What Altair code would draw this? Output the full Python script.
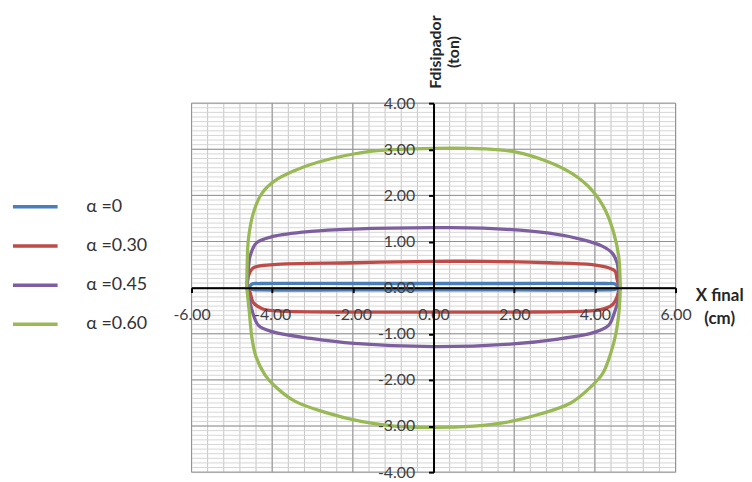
import altair as alt
import numpy as np
import pandas as pd

# ---- data ----
series_names = ["α =0", "α =0.30", "α =0.45", "α =0.60"]
series_colors = ["#4A7EBB", "#BE4B48", "#7D5FA0", "#98B954"]

# alpha = 0 (blue)
blue_top_x = [-4.56, -4.50, -4.30, -2.0, 0.0, 2.0, 4.30, 4.50, 4.56]
blue_top_y = [0.02, 0.08, 0.09, 0.09, 0.09, 0.09, 0.09, 0.08, 0.02]
blue_bot_x = [4.56, 4.50, 4.30, 2.0, 0.0, -2.0, -4.30, -4.50, -4.56]
blue_bot_y = [-0.01, -0.04, -0.05, -0.05, -0.05, -0.05, -0.05, -0.04, -0.01]

# alpha = 0.30 (red)
red_top_x = [-4.62, -4.59, -4.47, -3.98, -1.97, 0.0, 1.23, 2.87, 3.93, 4.34, 4.50, 4.55, 4.60]
red_top_y = [0.0, 0.25, 0.43, 0.50, 0.54, 0.57, 0.57, 0.54, 0.50, 0.43, 0.36, 0.18, 0.0]
red_bot_x = [4.60, 4.55, 4.45, 4.26, 3.98, 1.97, 0.0, -1.97, -3.98, -4.26, -4.47, -4.55, -4.62]
red_bot_y = [0.0, -0.20, -0.36, -0.45, -0.50, -0.53, -0.53, -0.53, -0.50, -0.45, -0.32, -0.10, 0.0]

# alpha = 0.45 (purple)
pur_top_x = [-4.62, -4.59, -4.55, -4.39, -3.98, -3.04, -1.97, 0.0, 1.23, 2.87, 3.69, 4.18, 4.43, 4.55, 4.59, 4.62]
pur_top_y = [0.0, 0.40, 0.68, 0.97, 1.11, 1.22, 1.27, 1.30, 1.29, 1.18, 1.04, 0.90, 0.75, 0.54, 0.25, 0.0]
pur_bot_x = [4.62, 4.57, 4.50, 4.34, 3.98, 3.04, 1.97, 0.0, -1.97, -3.04, -3.98, -4.34, -4.51, -4.58, -4.62]
pur_bot_y = [0.0, -0.30, -0.50, -0.82, -0.97, -1.12, -1.22, -1.28, -1.21, -1.10, -0.96, -0.82, -0.46, -0.20, 0.0]

# alpha = 0.60 (green)
grn_top_x = [-4.63, -4.62, -4.59, -4.47, -4.26, -3.93, -3.44, -2.87, -2.21, -1.39, 0.0,
             1.23, 2.05, 2.87, 3.44, 3.93, 4.26, 4.47, 4.59, 4.63]
grn_top_y = [0.0, 0.50, 1.04, 1.61, 2.04, 2.32, 2.54, 2.72, 2.86, 2.97, 3.02,
             3.01, 2.94, 2.72, 2.47, 2.11, 1.68, 1.18, 0.68, 0.0]
grn_bot_x = [4.63, 4.60, 4.52, 4.40, 4.20, 3.90, 3.40, 2.60, 1.80, 1.00, 0.0,
             -0.98, -1.80, -2.62, -3.44, -3.95, -4.18, -4.40, -4.50, -4.57, -4.63]
grn_bot_y = [0.0, -0.50, -1.00, -1.40, -1.85, -2.15, -2.50, -2.75, -2.92, -3.00, -3.03,
             -3.00, -2.90, -2.72, -2.46, -2.12, -1.89, -1.50, -1.10, -0.50, 0.0]

x_ticks = [-6, -4, -2, 0, 2, 4, 6]
y_ticks = [-4, -3, -2, -1, 0, 1, 2, 3, 4]

# ---- build table ----
rows = []
loops = [
    (series_names[0], blue_top_x, blue_top_y, blue_bot_x, blue_bot_y),
    (series_names[1], red_top_x, red_top_y, red_bot_x, red_bot_y),
    (series_names[2], pur_top_x, pur_top_y, pur_bot_x, pur_bot_y),
    (series_names[3], grn_top_x, grn_top_y, grn_bot_x, grn_bot_y),
]
for name, tx, ty, bx, by in loops:
    xs = list(tx) + list(bx) + [tx[0]]
    ys = list(ty) + list(by) + [ty[0]]
    for i, (xv, yv) in enumerate(zip(xs, ys)):
        rows.append({"serie": name, "x": xv, "y": yv, "ord": i})
df = pd.DataFrame(rows)

minor_v = pd.DataFrame({"x": np.round(np.arange(-6, 6.001, 0.4), 3)})
minor_h = pd.DataFrame({"y": np.round(np.arange(-4, 4.001, 0.1), 3)})
major_v = pd.DataFrame({"x": x_ticks})
major_h = pd.DataFrame({"y": y_ticks})

W, H = 488, 372
xs_scale = alt.Scale(domain=[-6, 6], nice=False, zero=False)
ys_scale = alt.Scale(domain=[-4, 4], nice=False, zero=False)

FONT = "Lato"
lab_expr = "(datum.value < 0 ? '-' : '') + format(abs(datum.value), '.2f')"

x_axis = alt.Axis(values=x_ticks, labelExpr=lab_expr, offset=-H / 2, orient="bottom",
                  grid=False, domainColor="black", domainWidth=2,
                  tickColor="black", tickWidth=2, tickSize=5,
                  labelPadding=14, labelFont=FONT, labelFontSize=16,
                  labelColor="#404040", labelFlush=False,
                  title=["X final", "(cm)"], titleFont=FONT, titleFontSize=17,
                  titleFontWeight="bold", titleColor="#262626", titleLimit=200,
                  titleX=532, titleY=8, titleAlign="center",
                  titleBaseline="middle", titleLineHeight=23, zindex=1)
y_axis = alt.Axis(values=y_ticks, labelExpr=lab_expr, offset=-W / 2, orient="left",
                  grid=False, domainColor="black", domainWidth=2,
                  tickColor="black", tickWidth=2, tickSize=5,
                  labelPadding=14, labelFont=FONT, labelFontSize=16,
                  labelColor="#404040", labelFlush=False,
                  title=["Fdisipador", "(ton)"], titleFont=FONT, titleFontSize=16,
                  titleFontWeight="bold", titleColor="#262626", titleLimit=200,
                  titleAngle=-90, titleX=2, titleY=-52, titleAlign="center",
                  titleBaseline="middle", titleLineHeight=18, zindex=1)

g1 = alt.Chart(minor_v).mark_rule(color="#c4c4c4", strokeWidth=1).encode(
    x=alt.X("x:Q", scale=xs_scale, axis=x_axis))
g2 = alt.Chart(minor_h).mark_rule(color="#d6d6d6", strokeWidth=1).encode(
    y=alt.Y("y:Q", scale=ys_scale, axis=y_axis))
g3 = alt.Chart(major_v).mark_rule(color="#929292", strokeWidth=1).encode(
    x=alt.X("x:Q", scale=xs_scale, axis=x_axis))
g4 = alt.Chart(major_h).mark_rule(color="#929292", strokeWidth=1).encode(
    y=alt.Y("y:Q", scale=ys_scale, axis=y_axis))

lines = alt.Chart(df).mark_line(strokeWidth=3.3, interpolate="catmull-rom").encode(
    x=alt.X("x:Q", scale=xs_scale, axis=x_axis),
    y=alt.Y("y:Q", scale=ys_scale, axis=y_axis),
    color=alt.Color("serie:N",
                    scale=alt.Scale(domain=series_names, range=series_colors),
                    legend=alt.Legend(orient="none", legendX=-182, legendY=80,
                                      title=None, symbolType="stroke",
                                      symbolSize=2025, symbolStrokeWidth=3.5,
                                      labelOffset=27, labelFont=FONT,
                                      labelFontSize=18, labelColor="#333333",
                                      rowPadding=5.5, padding=0)),
    order=alt.Order("ord:Q"),
)

chart = alt.layer(g1, g2, g3, g4, lines).properties(
    width=W, height=H,
    autosize=alt.AutoSizeParams(type="none"),
    padding={"left": 185, "top": 94, "right": 69, "bottom": 8},
).configure_view(stroke=None).configure_axis(grid=False).configure(background="white")

chart.save("out.html", embed_options={"renderer": "svg", "actions": False})
